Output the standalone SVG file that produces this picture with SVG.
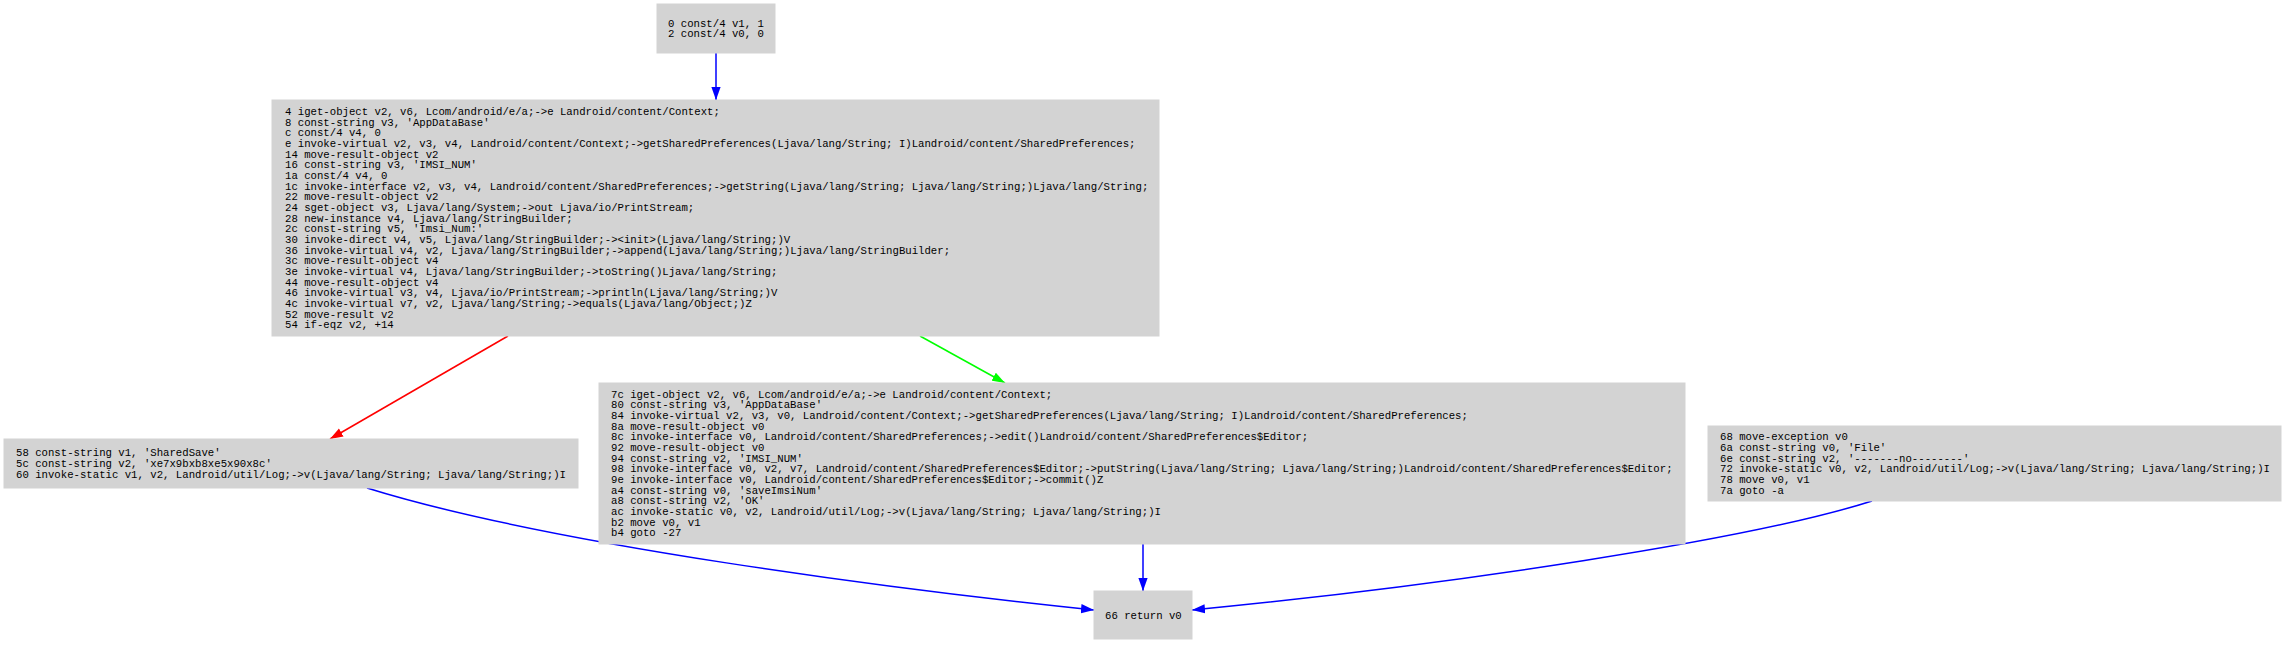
<svg xmlns="http://www.w3.org/2000/svg" width="2285" height="645" viewBox="0 0 2285 645">
<style>
.nb{fill:#d3d3d3;stroke:#d3d3d3;stroke-width:1}
.t{font-family:"Liberation Mono","Courier New",monospace;font-size:10.67px;fill:#000;white-space:pre}
.e{fill:none;stroke-width:1.5}
</style>
<defs>
<marker id="hb" viewBox="0 0 13 10" refX="13" refY="5" markerWidth="13" markerHeight="10" markerUnits="userSpaceOnUse" orient="auto"><path d="M0,0.4 L13,5 L0,9.6 z" fill="#0000ff"/></marker>
<marker id="hr" viewBox="0 0 13 10" refX="13" refY="5" markerWidth="13" markerHeight="10" markerUnits="userSpaceOnUse" orient="auto"><path d="M0,0.4 L13,5 L0,9.6 z" fill="#ff0000"/></marker>
<marker id="hg" viewBox="0 0 13 10" refX="13" refY="5" markerWidth="13" markerHeight="10" markerUnits="userSpaceOnUse" orient="auto"><path d="M0,0.4 L13,5 L0,9.6 z" fill="#00ff00"/></marker>
</defs>
<rect width="2285" height="645" fill="#fff"/>
<g id="edges">
<path class="e" stroke="#0000ff" d="M716,53 L716,100" marker-end="url(#hb)"/>
<path class="e" stroke="#ff0000" d="M508,336 L330,439" marker-end="url(#hr)"/>
<path class="e" stroke="#00ff00" d="M920,336 L1005,383" marker-end="url(#hg)"/>
<path class="e" stroke="#0000ff" d="M1143,544 L1143,591" marker-end="url(#hb)"/>
<path class="e" stroke="#0000ff" d="M367,488 C550,545 900,590 1094,610" marker-end="url(#hb)"/>
<path class="e" stroke="#0000ff" d="M1872,501 C1750,540 1450,585 1192,610" marker-end="url(#hb)"/>
</g>
<g id="n0">
<rect class="nb" x="657" y="4" width="118" height="49"/>
<text class="t" x="668" y="26.7">0 const/4 v1, 1</text>
<text class="t" x="668" y="37.4">2 const/4 v0, 0</text>
</g>
<g id="n4">
<rect class="nb" x="272" y="100" width="887" height="236"/>
<text class="t" x="285" y="114.8">4 iget-object v2, v6, Lcom/android/e/a;-&gt;e Landroid/content/Context;</text>
<text class="t" x="285" y="125.5">8 const-string v3, 'AppDataBase'</text>
<text class="t" x="285" y="136.1">c const/4 v4, 0</text>
<text class="t" x="285" y="146.8">e invoke-virtual v2, v3, v4, Landroid/content/Context;-&gt;getSharedPreferences(Ljava/lang/String; I)Landroid/content/SharedPreferences;</text>
<text class="t" x="285" y="157.5">14 move-result-object v2</text>
<text class="t" x="285" y="168.2">16 const-string v3, 'IMSI_NUM'</text>
<text class="t" x="285" y="178.8">1a const/4 v4, 0</text>
<text class="t" x="285" y="189.5">1c invoke-interface v2, v3, v4, Landroid/content/SharedPreferences;-&gt;getString(Ljava/lang/String; Ljava/lang/String;)Ljava/lang/String;</text>
<text class="t" x="285" y="200.2">22 move-result-object v2</text>
<text class="t" x="285" y="210.8">24 sget-object v3, Ljava/lang/System;-&gt;out Ljava/io/PrintStream;</text>
<text class="t" x="285" y="221.5">28 new-instance v4, Ljava/lang/StringBuilder;</text>
<text class="t" x="285" y="232.2">2c const-string v5, 'Imsi_Num:'</text>
<text class="t" x="285" y="242.8">30 invoke-direct v4, v5, Ljava/lang/StringBuilder;-&gt;&lt;init&gt;(Ljava/lang/String;)V</text>
<text class="t" x="285" y="253.5">36 invoke-virtual v4, v2, Ljava/lang/StringBuilder;-&gt;append(Ljava/lang/String;)Ljava/lang/StringBuilder;</text>
<text class="t" x="285" y="264.2">3c move-result-object v4</text>
<text class="t" x="285" y="274.9">3e invoke-virtual v4, Ljava/lang/StringBuilder;-&gt;toString()Ljava/lang/String;</text>
<text class="t" x="285" y="285.5">44 move-result-object v4</text>
<text class="t" x="285" y="296.2">46 invoke-virtual v3, v4, Ljava/io/PrintStream;-&gt;println(Ljava/lang/String;)V</text>
<text class="t" x="285" y="306.9">4c invoke-virtual v7, v2, Ljava/lang/String;-&gt;equals(Ljava/lang/Object;)Z</text>
<text class="t" x="285" y="317.5">52 move-result v2</text>
<text class="t" x="285" y="328.2">54 if-eqz v2, +14</text>
</g>
<g id="n58">
<rect class="nb" x="4" y="439" width="574" height="49"/>
<text class="t" x="16" y="456.3">58 const-string v1, 'SharedSave'</text>
<text class="t" x="16" y="467">5c const-string v2, 'xe7x9bxb8xe5x90x8c'</text>
<text class="t" x="16" y="477.7">60 invoke-static v1, v2, Landroid/util/Log;-&gt;v(Ljava/lang/String; Ljava/lang/String;)I</text>
</g>
<g id="n7c">
<rect class="nb" x="599" y="383" width="1086" height="161"/>
<text class="t" x="611" y="397.6">7c iget-object v2, v6, Lcom/android/e/a;-&gt;e Landroid/content/Context;</text>
<text class="t" x="611" y="408.3">80 const-string v3, 'AppDataBase'</text>
<text class="t" x="611" y="418.9">84 invoke-virtual v2, v3, v0, Landroid/content/Context;-&gt;getSharedPreferences(Ljava/lang/String; I)Landroid/content/SharedPreferences;</text>
<text class="t" x="611" y="429.6">8a move-result-object v0</text>
<text class="t" x="611" y="440.3">8c invoke-interface v0, Landroid/content/SharedPreferences;-&gt;edit()Landroid/content/SharedPreferences$Editor;</text>
<text class="t" x="611" y="450.9">92 move-result-object v0</text>
<text class="t" x="611" y="461.6">94 const-string v2, 'IMSI_NUM'</text>
<text class="t" x="611" y="472.3">98 invoke-interface v0, v2, v7, Landroid/content/SharedPreferences$Editor;-&gt;putString(Ljava/lang/String; Ljava/lang/String;)Landroid/content/SharedPreferences$Editor;</text>
<text class="t" x="611" y="483">9e invoke-interface v0, Landroid/content/SharedPreferences$Editor;-&gt;commit()Z</text>
<text class="t" x="611" y="493.6">a4 const-string v0, 'saveImsiNum'</text>
<text class="t" x="611" y="504.3">a8 const-string v2, 'OK'</text>
<text class="t" x="611" y="515">ac invoke-static v0, v2, Landroid/util/Log;-&gt;v(Ljava/lang/String; Ljava/lang/String;)I</text>
<text class="t" x="611" y="525.6">b2 move v0, v1</text>
<text class="t" x="611" y="536.3">b4 goto -27</text>
</g>
<g id="n68">
<rect class="nb" x="1708" y="426" width="573" height="75"/>
<text class="t" x="1720" y="440.3">68 move-exception v0</text>
<text class="t" x="1720" y="451">6a const-string v0, 'File'</text>
<text class="t" x="1720" y="461.6">6e const-string v2, '-------no--------'</text>
<text class="t" x="1720" y="472.3">72 invoke-static v0, v2, Landroid/util/Log;-&gt;v(Ljava/lang/String; Ljava/lang/String;)I</text>
<text class="t" x="1720" y="483">78 move v0, v1</text>
<text class="t" x="1720" y="493.6">7a goto -a</text>
</g>
<g id="n66">
<rect class="nb" x="1094" y="591" width="98" height="48"/>
<text class="t" x="1105" y="618.5">66 return v0</text>
</g>
</svg>
